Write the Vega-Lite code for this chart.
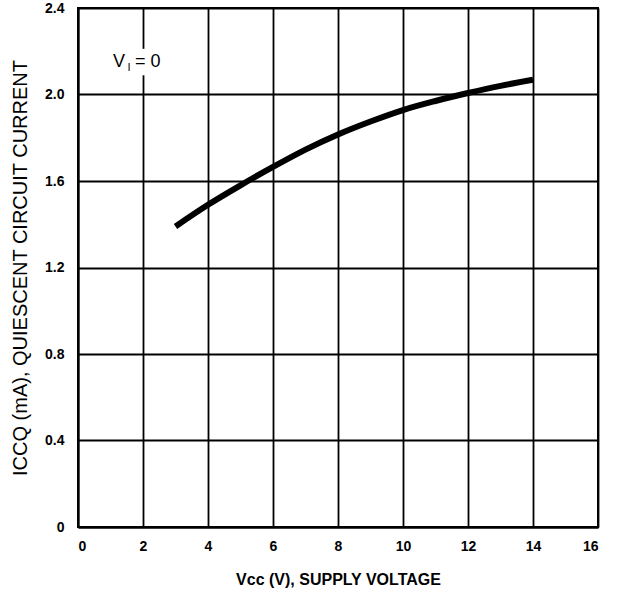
{
  "$schema": "https://vega.github.io/schema/vega-lite/v6.json",
  "width": 520,
  "height": 519,
  "autosize": {"type": "none"},
  "padding": {"left": 78, "top": 8, "right": 19, "bottom": 71},
  "background": "white",
  "config": {
    "view": {"stroke": "black", "strokeWidth": 2},
    "axis": {
      "grid": true,
      "gridColor": "black",
      "gridOpacity": 1,
      "gridWidth": 1.8,
      "domainColor": "black",
      "domainWidth": 2,
      "ticks": false,
      "labelFont": "Liberation Sans",
      "labelFontWeight": "bold",
      "labelFontSize": 14,
      "labelColor": "black",
      "titleColor": "black",
      "titleFont": "Liberation Sans"
    }
  },
  "datasets": {
    "curve": [
      {"vcc": 3, "icc": 1.39},
      {"vcc": 4, "icc": 1.49},
      {"vcc": 5, "icc": 1.58},
      {"vcc": 6, "icc": 1.665},
      {"vcc": 7, "icc": 1.745},
      {"vcc": 8, "icc": 1.815},
      {"vcc": 9, "icc": 1.875},
      {"vcc": 10, "icc": 1.928},
      {"vcc": 11, "icc": 1.97},
      {"vcc": 12, "icc": 2.007},
      {"vcc": 13, "icc": 2.04},
      {"vcc": 14, "icc": 2.068}
    ],
    "note": [{"x": 2, "y": 2.15, "label": "V", "sub": "I", "rest": "= 0"}]
  },
  "layer": [
    {
      "data": {"name": "curve"},
      "mark": {"type": "line", "color": "black", "strokeWidth": 6, "interpolate": "monotone", "strokeCap": "butt"},
      "encoding": {
        "x": {
          "field": "vcc", "type": "quantitative",
          "scale": {"domain": [0, 16], "nice": false},
          "axis": {"values": [0, 2, 4, 6, 8, 10, 12, 14, 16], "labelPadding": 12,
                   "title": "Vcc (V), SUPPLY VOLTAGE", "titleFontWeight": "bold", "titleFontSize": 16, "titlePadding": 18}
        },
        "y": {
          "field": "icc", "type": "quantitative",
          "scale": {"domain": [0, 2.4], "nice": false},
          "axis": {"values": [0, 0.4, 0.8, 1.2, 1.6, 2.0, 2.4], "labelPadding": 14,
                   "labelExpr": "datum.value == 0 ? '0' : format(datum.value, '.1f')",
                   "title": "ICCQ (mA), QUIESCENT CIRCUIT CURRENT", "titleFontWeight": "normal", "titleFontSize": 20, "titlePadding": 14}
        }
      }
    },
    {
      "data": {"name": "note"},
      "mark": {"type": "point", "shape": "M-0.3,-1L0.3,-1L0.3,1L-0.3,1Z", "size": 700, "filled": true, "color": "white", "opacity": 1, "strokeWidth": 0},
      "encoding": {
        "x": {"field": "x", "type": "quantitative"},
        "y": {"field": "y", "type": "quantitative"}
      }
    },
    {
      "data": {"name": "note"},
      "mark": {"type": "text", "fontSize": 18, "font": "Liberation Sans", "align": "right", "baseline": "middle", "dx": -18, "color": "black"},
      "encoding": {
        "x": {"field": "x", "type": "quantitative"},
        "y": {"field": "y", "type": "quantitative"},
        "text": {"field": "label"}
      }
    },
    {
      "data": {"name": "note"},
      "mark": {"type": "text", "fontSize": 11, "font": "Liberation Sans", "align": "center", "baseline": "middle", "dx": -14, "dy": 6, "color": "black"},
      "encoding": {
        "x": {"field": "x", "type": "quantitative"},
        "y": {"field": "y", "type": "quantitative"},
        "text": {"field": "sub"}
      }
    },
    {
      "data": {"name": "note"},
      "mark": {"type": "text", "fontSize": 18, "font": "Liberation Sans", "align": "left", "baseline": "middle", "dx": -8, "color": "black"},
      "encoding": {
        "x": {"field": "x", "type": "quantitative"},
        "y": {"field": "y", "type": "quantitative"},
        "text": {"field": "rest"}
      }
    }
  ]
}
